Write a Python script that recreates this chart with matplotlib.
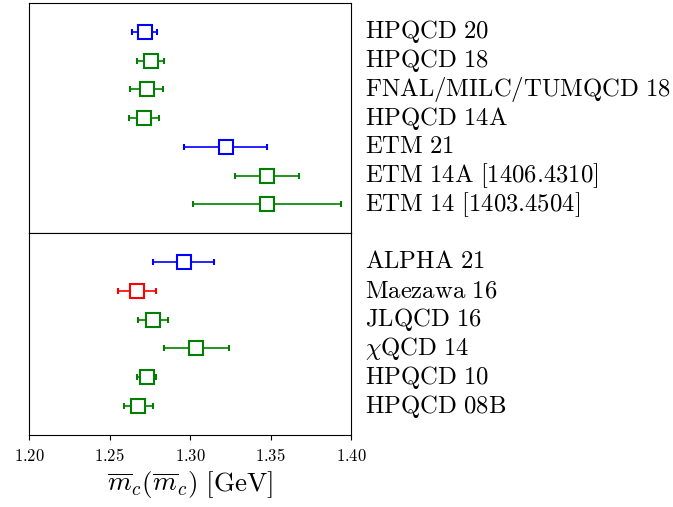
import numpy as np
import matplotlib
matplotlib.use("Agg")
import matplotlib.pyplot as plt

plt.rcParams['mathtext.fontset'] = 'cm'
plt.rcParams['font.family'] = 'serif'
plt.rcParams['font.serif'] = ['DejaVu Serif']

# Nf = 2+1+1 results (top panel)
labels_top = [r'$\mathrm{HPQCD\ 20}$', r'$\mathrm{HPQCD\ 18}$',
              r'$\mathrm{FNAL/MILC/TUMQCD\ 18}$', r'$\mathrm{HPQCD\ 14A}$',
              r'$\mathrm{ETM\ 21}$', r'$\mathrm{ETM\ 14A\ [1406.4310]}$',
              r'$\mathrm{ETM\ 14\ [1403.4504]}$']
vals_top = [1.2719, 1.2757, 1.273, 1.2715, 1.3221, 1.348, 1.348]
errs_top = [0.0078, 0.0084, 0.010, 0.0095, 0.0257, 0.020, 0.046]
colors_top = ['blue', 'green', 'green', 'green', 'blue', 'green', 'green']

# Nf = 2+1 results (bottom panel)
labels_bot = [r'$\mathrm{ALPHA\ 21}$', r'$\mathrm{Maezawa\ 16}$',
              r'$\mathrm{JLQCD\ 16}$', r'$\chi\mathrm{QCD\ 14}$',
              r'$\mathrm{HPQCD\ 10}$', r'$\mathrm{HPQCD\ 08B}$']
vals_bot = [1.296, 1.267, 1.2770, 1.304, 1.273, 1.268]
errs_bot = [0.019, 0.012, 0.0095, 0.020, 0.006, 0.009]
colors_bot = ['blue', 'red', 'green', 'green', 'green', 'green']

xticks = [1.20, 1.25, 1.30, 1.35, 1.40]

fig = plt.figure(figsize=(6.73, 5.07), dpi=100)
left, right = 29 / 673, 351 / 673
top, mid, bottom = 1 - 3 / 507, 1 - 233 / 507, 1 - 435 / 507
ax1 = fig.add_axes([left, mid, right - left, top - mid])
ax2 = fig.add_axes([left, bottom, right - left, mid - bottom])


def draw_panel(ax, labels, vals, errs, colors):
    n = len(vals)
    for i in range(n):
        y = n - 1 - i
        ax.errorbar(vals[i], y, xerr=errs[i], fmt='s', color=colors[i],
                    mfc='white', mec=colors[i], ms=10.5, mew=1.5,
                    elinewidth=1.2, capsize=2, capthick=1.2)
        ax.text(1.4 + 0.009, y, labels[i], fontsize=17.8, va='center',
                ha='left', clip_on=False)
    ax.set_ylim(-1, n)
    ax.set_xlim(1.2, 1.4)
    ax.set_yticks([])


draw_panel(ax1, labels_top, vals_top, errs_top, colors_top)
draw_panel(ax2, labels_bot, vals_bot, errs_bot, colors_bot)

ax1.set_xticks([])
ax2.set_xticks(xticks)
ax2.set_xticklabels(['$%.2f$' % t for t in xticks], fontsize=12)
ax2.tick_params(axis='x', direction='out', length=3.5, pad=6)
ax2.set_xlabel(r'$\overline{m}_c(\overline{m}_c)\ [\mathrm{GeV}]$', fontsize=19.5,
               labelpad=3)

fig.savefig('out.png', dpi=100)
